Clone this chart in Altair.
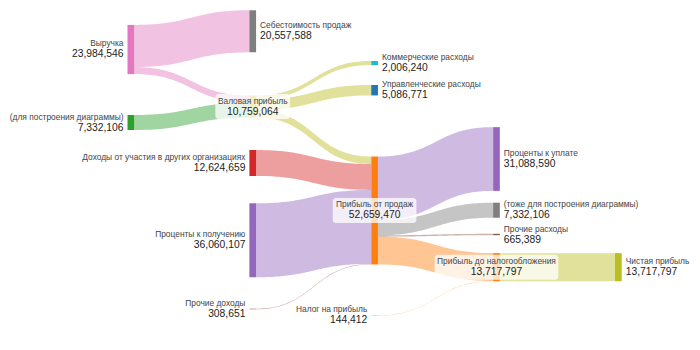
import altair as alt
import pandas as pd
import numpy as np

# ---------------- data ----------------
node_names = [
    "Выручка",                                   # 0
    "(для построения диаграммы)",                # 1
    "Себестоимость продаж",                      # 2
    "Валовая прибыль",                           # 3
    "Доходы от участия в других организациях",   # 4
    "Проценты к получению",                      # 5
    "Прочие доходы",                             # 6
    "Коммерческие расходы",                      # 7
    "Управленческие расходы",                    # 8
    "Прибыль от продаж",                         # 9
    "Налог на прибыль",                          # 10
    "Проценты к уплате",                         # 11
    "(тоже для построения диаграммы)",           # 12
    "Прочие расходы",                            # 13
    "Прибыль до налогообложения",                # 14
    "Чистая прибыль",                            # 15
]
link_source = [0, 0, 1, 3, 3, 3, 4, 5, 6, 9, 9, 9, 9, 10, 14]
link_target = [2, 3, 3, 7, 8, 9, 9, 9, 9, 11, 12, 13, 14, 14, 15]
link_value = [20557588, 3426958, 7332106, 2006240, 5086771, 3666053,
              12624659, 36060107, 308651, 31088590, 7332106, 665389,
              13573385, 144412, 13717797]

# ---------------- layout / style ----------------
node_column = [0, 0, 1, 1, 1, 1, 1, 2, 2, 2, 2, 3, 3, 3, 3, 4]
node_center_y = [0.1414, 0.35, 0.0894, 0.3043, 0.4657, 0.6866, 0.8829,
                 0.18, 0.2577, 0.6014, 0.9014, 0.4543, 0.6006, 0.67,
                 0.7634, 0.7634]
node_color = ["#e377c2", "#2ca02c", "#7f7f7f", "#bcbd22", "#d62728",
              "#9467bd", "#8c564b", "#17becf", "#1f77b4", "#ff7f0e",
              "#e377c2", "#9467bd", "#7f7f7f", "#8c564b", "#ff7f0e",
              "#bcbd22"]
link_color = ["#e377c2", "#e377c2", "#2ca02c", "#bcbd22", "#bcbd22",
              "#bcbd22", "#d62728", "#9467bd", "#8c564b", "#9467bd",
              "#7f7f7f", "#8c564b", "#ff7f0e", "#ff7f0e", "#bcbd22"]

W, H = 700, 350
COL_PX = 121.875
X0_PX = 127.5
NODE_W_PX = 6.7
PX_PER_UNIT = 2.05e-6
FONT = "Liberation Sans"
NAME_SIZE = 8.4
VALUE_SIZE = 10.3

x_dom = [-X0_PX / COL_PX, (W - X0_PX) / COL_PX]
nw = NODE_W_PX / COL_PX
y_tot = H / PX_PER_UNIT

n = len(node_names)
in_sum = [0] * n
out_sum = [0] * n
for s, t, v in zip(link_source, link_target, link_value):
    out_sum[s] += v
    in_sum[t] += v
node_val = [max(a, b) for a, b in zip(in_sum, out_sum)]
node_top = [node_center_y[i] * y_tot - node_val[i] / 2 for i in range(n)]

# nodes
nodes = pd.DataFrame({
    "name": node_names,
    "x": [c for c in node_column],
    "x2": [c + nw for c in node_column],
    "y": node_top,
    "y2": [node_top[i] + node_val[i] for i in range(n)],
    "cy": [node_center_y[i] * y_tot for i in range(n)],
    "cx": [c + nw / 2 for c in node_column],
    "color": node_color,
    "value": [f"{v:,}" for v in node_val],
    "kind": ["left" if in_sum[i] == 0 else ("right" if out_sum[i] == 0 else "center")
             for i in range(n)],
})

# links
out_off = list(node_top)
in_off = list(node_top)
rows = []
ts = np.linspace(0, 1, 60)
for li, (s, t, v) in enumerate(zip(link_source, link_target, link_value)):
    x0 = node_column[s] + nw
    x1 = node_column[t]
    xm = (x0 + x1) / 2
    ys0 = out_off[s]
    yt0 = in_off[t]
    out_off[s] += v
    in_off[t] += v
    for tt in ts:
        a = (1 - tt) ** 3
        b = 3 * (1 - tt) ** 2 * tt
        c = 3 * (1 - tt) * tt ** 2
        d = tt ** 3
        x = a * x0 + b * xm + c * xm + d * x1
        yt = (a + b) * ys0 + (c + d) * yt0
        rows.append({"lid": li, "x": x, "y": yt, "y2": yt + v, "color": link_color[li]})
links = pd.DataFrame(rows)

xs = alt.Scale(domain=x_dom, nice=False, zero=False)
ys = alt.Scale(domain=[0, y_tot], nice=False, zero=False, reverse=True)

link_layer = alt.Chart(links).mark_area(opacity=0.45, interpolate="linear").encode(
    x=alt.X("x:Q", scale=xs, axis=None),
    y=alt.Y("y:Q", scale=ys, axis=None, stack=None),
    y2="y2:Q",
    detail="lid:N",
    color=alt.Color("color:N", scale=None),
)

node_layer = alt.Chart(nodes).mark_rect().encode(
    x=alt.X("x:Q", scale=xs, axis=None),
    x2="x2:Q",
    y=alt.Y("y:Q", scale=ys, axis=None),
    y2="y2:Q",
    color=alt.Color("color:N", scale=None),
)

# label boxes for intermediate nodes
center = nodes[nodes["kind"] == "center"].copy()
half_w = (center["name"].str.len() * 4.45 + 8) / 2 / COL_PX
center["bx"] = center["cx"] - half_w
center["bx2"] = center["cx"] + half_w
center["by"] = center["cy"] - 12.5 / PX_PER_UNIT
center["by2"] = center["cy"] + 12.5 / PX_PER_UNIT

box_layer = alt.Chart(center).mark_rect(color="white", opacity=0.75, cornerRadius=3).encode(
    x=alt.X("bx:Q", scale=xs, axis=None),
    x2="bx2:Q",
    y=alt.Y("by:Q", scale=ys, axis=None),
    y2="by2:Q",
)


def text_layers(df, xfield, align, dx):
    base = alt.Chart(df)
    name = base.mark_text(align=align, baseline="middle", dx=dx, dy=-6,
                          fontSize=NAME_SIZE, font=FONT, color="#444444").encode(
        x=alt.X(f"{xfield}:Q", scale=xs, axis=None),
        y=alt.Y("cy:Q", scale=ys, axis=None),
        text="name:N",
    )
    val = base.mark_text(align=align, baseline="middle", dx=dx, dy=5,
                         fontSize=VALUE_SIZE, font=FONT, color="#222222").encode(
        x=alt.X(f"{xfield}:Q", scale=xs, axis=None),
        y=alt.Y("cy:Q", scale=ys, axis=None),
        text="value:N",
    )
    return [name, val]


left_df = nodes[nodes["kind"] == "left"]
right_df = nodes[nodes["kind"] == "right"]
texts = (text_layers(left_df, "x", "right", -4)
         + text_layers(right_df, "x2", "left", 4)
         + text_layers(center, "cx", "center", 0))

chart = alt.layer(link_layer, node_layer, box_layer, *texts).properties(
    width=W, height=H, padding=0, autosize=alt.AutoSizeParams(type="none"),
).configure_view(strokeWidth=0)

chart.save("out.html", embed_options={"renderer": "svg", "actions": False})
